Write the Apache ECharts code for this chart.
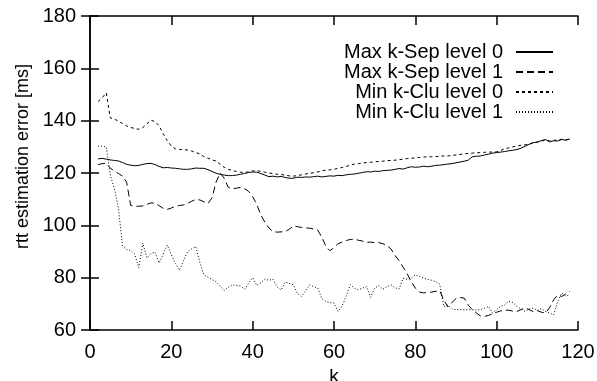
<!DOCTYPE html>
<html>
<head>
<meta charset="utf-8">
<script src="https://cdn.jsdelivr.net/npm/echarts@6/dist/echarts.min.js"></script>
<style>
  html, body { margin: 0; padding: 0; background: #fff; }
  #main { width: 597px; height: 381px; }
</style>
</head>
<body>
<div id="main"></div>
<script>
// k values (x axis)
var kValues = [];
for (var k = 2; k <= 118; k++) { kValues.push(k); }

var seriesNames = ['Max k-Sep level 0', 'Max k-Sep level 1', 'Min k-Clu level 0', 'Min k-Clu level 1'];

var maxSep0 = [125.4,125.6,125.3,125.0,124.8,124.6,124.0,123.3,123.0,122.8,122.9,123.3,123.6,123.7,123.2,122.5,122.0,122.1,121.9,121.8,
  121.6,121.4,121.4,121.6,121.9,121.8,121.8,121.3,120.6,119.9,119.5,119.2,119.0,119.0,119.2,119.5,119.8,120.2,120.4,120.3,
  119.8,119.2,118.6,118.8,118.5,118.7,118.3,118.0,118.0,118.4,118.3,118.5,118.4,118.6,118.8,118.5,118.7,118.9,118.8,119.1,
  119.0,119.3,119.5,119.6,119.9,120.2,120.5,120.4,120.7,120.6,120.9,121.0,121.1,121.4,121.7,121.5,122.0,122.4,122.2,122.3,
  122.6,122.4,122.6,122.9,123.0,123.2,123.4,123.6,123.9,124.2,124.5,124.9,126.2,126.4,126.5,126.9,127.2,127.6,127.8,128.0,
  128.2,128.5,128.7,129.0,129.5,130.2,131.0,131.6,131.8,132.4,132.8,131.9,132.3,132.2,132.8,132.5,133.0];

var maxSep1 = [123.2,123.6,123.7,121.8,120.8,119.8,118.8,116.5,107.6,107.2,107.3,107.4,108.0,108.6,108.4,107.5,106.5,106.1,106.6,107.3,
  107.6,107.8,108.4,109.2,109.9,109.7,109.0,108.3,110.5,116.5,120.0,118.0,114.5,114.0,114.2,114.5,114.0,113.0,111.0,108.0,
  104.0,101.2,99.0,97.6,97.4,97.5,97.6,98.5,99.8,99.5,99.2,99.0,98.9,98.6,98.2,95.5,92.0,90.3,91.5,93.0,
  93.6,94.2,94.6,94.7,94.3,94.0,93.5,93.6,93.4,93.4,93.0,92.3,91.0,88.5,86.5,84.0,81.5,78.5,76.0,74.5,
  74.2,74.3,74.5,74.8,75.0,71.5,68.8,70.5,72.0,72.4,72.2,69.5,67.8,66.5,65.4,65.2,65.6,66.2,66.8,67.3,
  67.5,67.6,67.2,67.1,67.8,68.4,67.8,67.0,67.4,66.8,66.5,68.5,71.5,73.4,72.8,73.8,74.8];

var minClu0 = [147.3,148.8,150.6,141.0,140.6,139.8,138.9,138.0,137.4,137.0,136.7,137.4,138.8,140.2,139.6,138.0,135.0,132.4,130.3,129.2,
  129.0,128.9,128.8,128.4,127.8,127.3,126.3,125.7,125.0,124.6,123.3,122.2,121.4,121.0,120.6,120.3,120.2,120.4,120.8,120.9,
  120.6,120.3,120.0,119.8,119.5,119.4,119.2,118.9,118.8,119.0,119.3,119.6,119.9,120.1,120.4,120.8,121.1,121.2,121.4,121.8,
  122.1,122.5,123.0,123.4,123.6,123.8,124.0,124.1,124.3,124.4,124.5,124.7,124.8,124.9,125.1,125.3,125.5,125.6,125.8,125.9,
  126.1,126.2,126.2,126.3,126.4,126.5,126.5,126.7,126.9,127.1,127.3,127.5,127.6,127.7,127.8,127.9,128.0,128.0,128.1,128.6,
  129.3,129.6,130.0,130.3,130.6,130.8,131.0,131.5,131.8,132.2,132.6,132.3,132.5,132.6,132.9,132.7,133.1];

var minClu1 = [130.3,130.2,130.0,119.0,114.0,106.5,92.0,90.8,90.4,89.0,83.8,93.2,87.6,89.2,89.8,85.6,89.0,92.5,88.8,85.4,
  82.8,86.5,90.0,91.0,91.9,86.0,81.0,80.2,79.3,78.5,76.8,75.1,76.3,77.3,77.0,76.8,75.6,77.8,80.0,77.0,
  78.0,79.5,79.0,79.4,76.5,75.3,78.3,77.8,77.3,74.0,72.8,75.0,77.3,76.6,76.0,72.0,70.8,70.5,70.3,67.1,
  69.2,73.0,77.3,76.0,75.4,76.0,76.6,72.5,76.0,77.0,75.6,76.5,77.3,76.2,75.6,79.8,79.4,79.8,81.1,80.5,
  79.8,79.4,79.0,78.5,77.5,69.0,69.5,68.0,67.8,67.8,67.7,67.8,67.7,67.6,67.8,68.3,69.0,66.5,67.8,69.0,
  69.6,71.0,70.5,69.0,68.0,67.1,68.0,68.4,67.5,68.2,67.1,66.5,65.8,70.9,74.1,73.0,73.6];

var lineTypes = ['solid', [7, 4], [3, 3], [1, 2]];
var allValues = [maxSep0, maxSep1, minClu0, minClu1];

function toPairs(vals) {
    var arr = [];
    for (var i = 0; i < kValues.length; i++) {
        arr.push([kValues[i], vals[i]]);
    }
    return arr;
}

var font = 'Liberation Sans, Arial, Helvetica, sans-serif';
var axisCommon = {
    axisLine: { show: true, lineStyle: { color: '#000', width: 1.5 } },
    axisTick: { show: true, inside: true, length: 9, lineStyle: { color: '#000', width: 1.5 } },
    splitLine: { show: false }
};

var series = [];
for (var i = 0; i < seriesNames.length; i++) {
    series.push({
        name: seriesNames[i],
        type: 'line',
        data: toPairs(allValues[i]),
        symbol: 'none',
        showSymbol: false,
        lineStyle: { color: '#000', width: 1, type: lineTypes[i] },
        itemStyle: { color: '#000' }
    });
}

var myChart = echarts.init(document.getElementById('main'));
var option = {
    animation: false,
    backgroundColor: '#fff',
    grid: { left: 90, right: 19, top: 16, bottom: 51, outerBoundsMode: 'none', containLabel: false },
    legend: {
        data: seriesNames,
        orient: 'vertical',
        right: 38,
        top: 37,
        align: 'right',
        itemWidth: 37,
        itemHeight: 12,
        itemGap: 0,
        itemStyle: { opacity: 0 },
        textStyle: { fontSize: 20, lineHeight: 20, fontFamily: font, color: '#000', padding: [0, 8, 0, 0] }
    },
    xAxis: [
        Object.assign({
            type: 'value', min: 0, max: 120, interval: 20,
            name: 'k', nameLocation: 'middle', nameGap: 24,
            nameTextStyle: { fontSize: 19, fontFamily: font, color: '#000' },
            axisLabel: { fontSize: 20, fontFamily: font, color: '#000', margin: 12 }
        }, axisCommon),
        Object.assign({
            type: 'value', min: 0, max: 120, interval: 20, position: 'top',
            axisLabel: { show: false }
        }, axisCommon)
    ],
    yAxis: [
        Object.assign({
            type: 'value', min: 60, max: 180, interval: 20,
            name: 'rtt estimation error [ms]', nameLocation: 'middle', nameGap: 57,
            nameTextStyle: { fontSize: 18, fontFamily: font, color: '#000', padding: [0, 0, 0, 33] },
            axisLabel: { fontSize: 20, fontFamily: font, color: '#000', margin: 14 }
        }, axisCommon),
        Object.assign({
            type: 'value', min: 60, max: 180, interval: 20, position: 'right',
            axisLabel: { show: false }
        }, axisCommon)
    ],
    series: series
};
myChart.setOption(option);
</script>
</body>
</html>
